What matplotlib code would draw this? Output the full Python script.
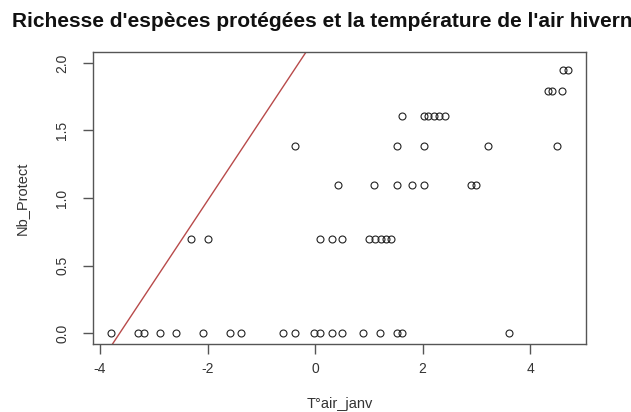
import matplotlib
matplotlib.use("Agg")
import matplotlib.pyplot as plt
import numpy as np

plt.rcParams['font.family'] = ['Liberation Sans', 'DejaVu Sans']

title = "Richesse d'espèces protégées et la température de l'air hivernal"
xlabel = "T°air_janv"
ylabel = "Nb_Protect"

# values; y levels are log(n+1)
x_row0 = [-3.79, -3.29, -3.18, -2.88, -2.58, -2.09, -1.58, -1.38, -0.59, -0.38,
          -0.01, 0.09, 0.31, 0.51, 0.90, 1.21, 1.53, 1.61, 3.61]
x_row1 = [-2.30, -1.99, 0.09, 0.31, 0.51, 1.01, 1.12, 1.22, 1.32, 1.42]
x_row2 = [0.42, 1.10, 1.52, 1.81, 2.02, 2.90, 2.99]
x_row3 = [-0.38, 1.52, 2.02, 3.21, 4.50]
x_row4 = [1.61, 2.02, 2.11, 2.21, 2.31, 2.41]
x_row5 = [4.33, 4.40, 4.59]
x_row6 = [4.61, 4.70]
counts = [1, 2, 3, 4, 5, 6, 7]

line_intercept = 2.18
line_slope = 0.60

xticks = [-4, -2, 0, 2, 4]
yticks = [0.0, 0.5, 1.0, 1.5, 2.0]

rows = [x_row0, x_row1, x_row2, x_row3, x_row4, x_row5, x_row6]
xs = []
ys = []
for r, c in zip(rows, counts):
    xs += r
    ys += [np.log(c)] * len(r)
xs = np.array(xs)
ys = np.array(ys)

fig = plt.figure(figsize=(6.31, 4.12), dpi=100)
ax = fig.add_axes([93/631, 1-344/412, (586-93)/631, (344-52)/412])

ax.plot(xs, ys, linestyle='none', marker='o', markersize=5,
        markerfacecolor='none', markeredgecolor='#222222', markeredgewidth=0.8)

xmin, xmax = xs.min(), xs.max()
pad = 0.04 * (xmax - xmin)
ax.set_xlim(xmin - pad, xmax + pad)
ax.set_ylim(-0.08, 2.08)

xl = np.array(ax.get_xlim())
ax.plot(xl, line_intercept + line_slope * xl, color='#b84a4a', lw=1.0)
ax.set_xlim(xmin - pad, xmax + pad)
ax.set_ylim(-0.08, 2.08)

for s in ax.spines.values():
    s.set_color('#555555')
    s.set_linewidth(1.0)

ax.set_xticks(xticks)
ax.set_xticklabels([str(t) for t in xticks])
ax.set_yticks(yticks)
ax.set_yticklabels([f"{t:.1f}" for t in yticks], rotation=90, va='center')
ax.tick_params(axis='both', direction='out', length=7, width=1.0, color='#555555',
               labelsize=10, labelcolor='#333333')
ax.tick_params(axis='x', pad=6)
ax.tick_params(axis='y', pad=10)

ax.set_xlabel(xlabel, fontsize=10.5, color='#333333', labelpad=15)
ax.set_ylabel(ylabel, fontsize=10.5, color='#333333', labelpad=19)

fig.text(12/631, 1-27/412, title, fontsize=15, fontweight='bold', color='#111111',
         ha='left', va='baseline')

fig.savefig("out.png", dpi=100)
